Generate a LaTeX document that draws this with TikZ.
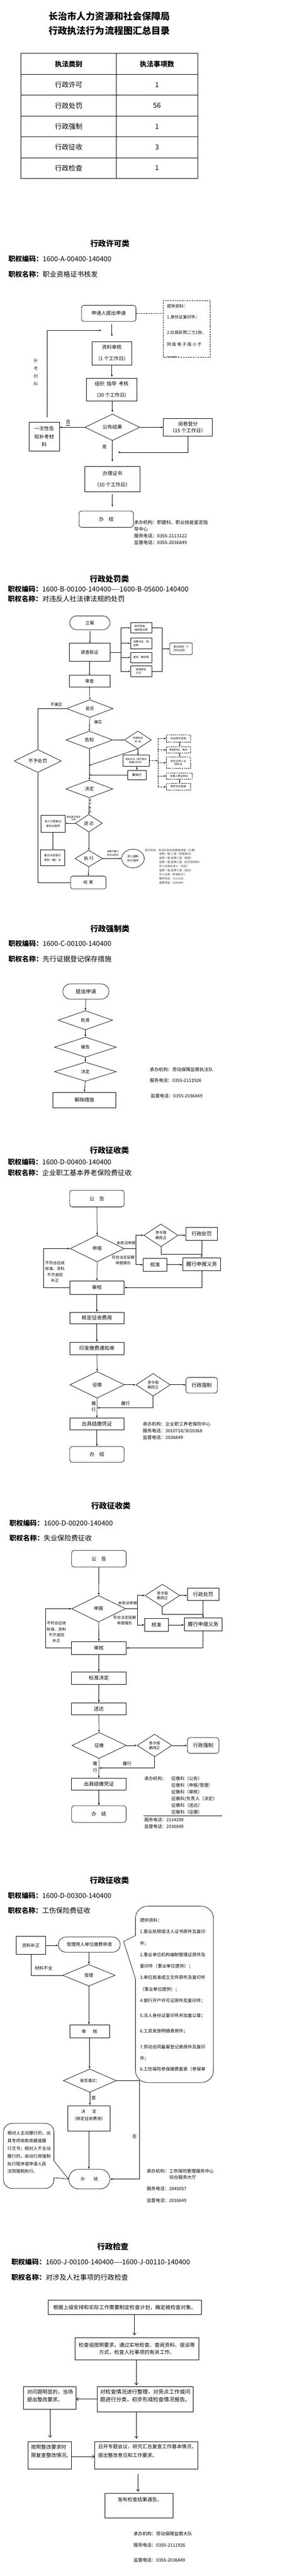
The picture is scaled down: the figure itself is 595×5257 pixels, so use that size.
\documentclass[tikz,border=0pt]{standalone}
\usepackage{fontspec}
\setmainfont{Noto Sans CJK SC}
\usetikzlibrary{shapes.geometric,arrows.meta}
\newcommand{\fsz}[2]{\fontsize{#1}{#2}\selectfont}
\begin{document}
\begin{tikzpicture}[x=1pt,y=-1pt,
 box/.style={draw, line width=0.8pt, inner sep=0pt, align=center},
 rbox/.style={box, rounded corners=5pt},
 dia/.style={draw, diamond, line width=0.8pt, inner sep=0pt, align=center},
 sbox/.style={box, minimum width=43, font=\fsz{5.3}{7}},
 dbox/.style={box, dash pattern=on 2.5pt off 1.5pt, minimum width=49, font=\fsz{5.3}{7}},
 ln/.style={line width=0.8pt},
 arr/.style={ln, -{Latex[length=4.5pt,width=3.6pt]}},
 sarr/.style={ln, -{Latex[length=3.5pt,width=3pt]}},
 darr/.style={sarr, dash pattern=on 3pt off 2pt},
 oarr/.style={ln, -{Straight Barb[length=4pt,width=7pt]}},
 head/.style={font=\bfseries\fsz{16}{18}},
 code/.style={anchor=west, inner sep=0pt, font=\fsz{14}{16}},
 txt/.style={anchor=west, inner sep=0pt, align=left},
 tline/.style={line width=0.9pt}]
\useasboundingbox[fill=white] (0,0) rectangle (595,5257);

% ---------------- Title and table
\node[font=\bfseries\fsz{19}{23}] (t1) at (223,33) {长治市人力资源和社会保障局};
\node[font=\bfseries\fsz{19}{23}] (t2) at (223,63) {行政执法行为流程图汇总目录};
\draw[tline] (43,109) rectangle (403,364);
\draw[tline] (237,109) -- (237,364);
\foreach \yy in {152,194,237,279,322} \draw[tline] (43,\yy) -- (403,\yy);
\node[font=\bfseries\fsz{14}{16}] (th1) at (140,130.5) {执法类别};
\node[font=\bfseries\fsz{14}{16}] (th2) at (320,130.5) {执法事项数};
\foreach \yy/\aa/\bb [count=\i] in {173/行政许可/1, 215.5/行政处罚/56, 258/行政强制/1, 300.5/行政征收/3, 343/行政检查/1} {
 \node[font=\fsz{14}{16}] (ra\i) at (140,\yy) {\aa};
 \node[font=\fsz{14}{16}] (rb\i) at (320,\yy) {\bb};
}

% ---------------- 行政许可类
\node[head] (h1) at (224,497) {行政许可类};
\node[code] (c1) at (17,528) {\textbf{职权编码：}1600-A-00400-140400};
\node[code] (n1) at (17,560) {\textbf{职权名称：}职业资格证书核发};

\node[rbox, minimum width=111, minimum height=33, font=\fsz{10}{12}] (A1) at (221.5,639.5) {申请人提出申请};
\node[box, dash pattern=on 3pt off 2pt, minimum width=95, minimum height=116] (Ad) at (380.5,671) {};
\node[txt, font=\fsz{8.5}{10}] (Ad1) at (340,625) {提供资料：};
\node[txt, font=\fsz{8.5}{10}] (Ad2) at (340,647) {1.身份证复印件；};
\node[txt, font=\fsz{8.5}{10}] (Ad3) at (340,679) {2.红底彩照二寸2张、};
\node[txt, font=\fsz{8.5}{10}] (Ad4) at (340,703) {同 底 电 子 版 小 于};
\begin{scope}
\clip (333,613) rectangle (428,729);
\node[txt, font=\fsz{8.5}{10}] (Ad5) at (340,731) {20KB；};
\end{scope}
\draw[ln, dash pattern=on 3pt off 2pt] (A1.east) -- (A1.east -| Ad.west);

\node[box, minimum width=80, minimum height=48, font=\fsz{10}{23}] (A2) at (228,721) {资料审核\\(1 个工作日)};
\draw[arr, shorten <=5pt, shorten >=10pt] (A1.south -| A2.north) -- (A2.north);
\coordinate (fbA) at (96,852);
\coordinate (fbB) at (207,674);
\draw[arr] (fbA) |- (fbB);
\node[font=\fsz{9}{15.5}, align=center, text=black!75] (bk) at (73,760) {补\\考\\材\\料};

\node[box, minimum width=103, minimum height=46, font=\fsz{10}{23}] (A3) at (227.5,795) {组织\ \ 指导\ \ 考核\\(30 个工作日)};
\draw[arr, shorten >=2pt] (A2.south) -- (A2.south |- A3.north);
\node[dia, minimum width=112, minimum height=54, font=\fsz{10}{12}] (AD) at (229,872) {公布结果};
\draw[arr, shorten >=3pt] (A3.south -| AD.north) -- (AD.north);
\node[box, minimum width=62, minimum height=58, font=\fsz{10}{16}] (A4) at (90,891) {一次性告\\知补考材\\料};
\draw[arr] (AD.west) -- (AD.west -| A4.east);
\node[font=\fsz{9}{10}] (no1) at (139,863) {\underline{否}};
\node[box, minimum width=100, minimum height=36, font=\fsz{10}{14}] (A5) at (383,872) {阅卷登分\\（15 个工作日）};
\draw[arr] (AD.east) -- (AD.east -| A5.west);
\coordinate (a5j) at (240,923);
\draw[arr] (A5.south) |- (a5j);
\node[font=\fsz{9}{10}] (yes1) at (213,912) {是};
\node[box, minimum width=112, minimum height=51, font=\fsz{10}{23}] (A6) at (229,977.5) {办理证书\\（10 个工作日）};
\draw[arr, shorten >=9pt] (AD.south) -- (A6.north);
\node[rbox, minimum width=111, minimum height=33, font=\fsz{10}{12}] (A7) at (216.5,1059.5) {办\quad 结};
\draw[arr, shorten <=5pt, shorten >=8pt] (A6.south) -- (A6.south |- A7.north);
\node[txt, anchor=north west, font=\fsz{9.4}{13.5}] (i1) at (273,1062) {承办机构：职建科、职业技能鉴定指\\导中心\\服务电话：0355-2113122\\监督电话：0355-2036849};

% ---------------- 行政处罚类
\node[head] (h2) at (223,1182) {行政处罚类};
\node[code] (c2) at (16,1202) {\textbf{职权编码：}1600-B-00100-140400----1600-B-05600-140400};
\node[code] (n2) at (16,1222) {\textbf{职权名称：}对违反人社法律法规的处罚};

\node[box, rounded corners=14pt, minimum width=82, minimum height=28, font=\fsz{9}{11}] (B1) at (183,1271) {立案};
\node[box, minimum width=83, minimum height=36, font=\fsz{9}{11}] (B2) at (182.5,1331) {调查取证};
\draw[sarr, shorten <=3pt] (B1.south) -- (B1.south |- B2.north);
\node[sbox, minimum height=21, align=left] (B3a) at (287.5,1281.5) {制作笔录、\\抽样取证等};
\node[sbox, minimum height=22, align=left] (B3b) at (287.5,1313) {收集书证、物\\证等};
\node[sbox, minimum height=21] (B3c) at (287.5,1341.5) {鉴定、勘验等};
\node[sbox, minimum height=22, align=left] (B3d) at (287.5,1370) {其他取证\\方式};
\coordinate (bL) at (246,1331);
\draw[ln] (B2.east) -- (bL);
\foreach \n in {B3a,B3b,B3c,B3d} \draw[sarr] (bL) |- (\n.west);
\coordinate (bR) at (331,1324);
\draw[ln] (B3a.east) -| (bR) |- (B3d.east);
\node[box, rounded corners=3pt, minimum width=46, minimum height=24, font=\fsz{5.5}{7.5}, align=left] (B4) at (369,1324) {登记保全（7\\日内决定）};
\draw[sarr] (bR) -- (B4.west);

\node[box, minimum width=83, minimum height=24, font=\fsz{9}{11}] (B5) at (182.5,1390) {审查};
\draw[sarr] (B2.south) -- (B5.north);
\node[dia, minimum width=95, minimum height=36, font=\fsz{8.5}{10}] (B6) at (183,1446) {是否};
\draw[sarr] (B5.south) -- (B6.north);
\node[dia, minimum width=96, minimum height=36, font=\fsz{9.5}{11}] (B7) at (77,1553) {不予处罚};
\draw[ln] (B6.west) -| (B7.north);
\node[font=\fsz{8}{9}] (l1) at (115,1438) {不属实};
\node[font=\fsz{8}{9}] (l2) at (200,1474) {属实};
\node[dia, minimum width=95, minimum height=36, font=\fsz{9.5}{11}] (B8) at (182,1510) {告知};
\draw[sarr] (B6.south) -- (B8.north);
\node[dia, minimum width=55, minimum height=36, font=\fsz{5}{7}] (B9) at (281,1510) {听取陈述\\申\ \ 辩};
\draw[sarr] (B8.east) -- (B9.west);
\node[box, minimum width=53, minimum height=23, font=\fsz{4.8}{7}] (B10) at (277.5,1552.5) {组织听证（情节复杂\\或重大处罚）};
\draw[sarr] (B9.south) -- (B9.south |- B10.north);
\coordinate (b9d) at (182,1562);
\draw[sarr] (B9.south) -- (b9d);
\node[box, minimum width=38, minimum height=19, font=\fsz{6.5}{8}] (B11) at (279,1581.5) {集体讨};
\draw[sarr] (B10.south -| B11.north) -- (B11.north);
\coordinate (b11m) at (182,1581.5);
\draw[sarr] (B11.west) -- (b11m);
\node[dia, minimum width=96, minimum height=36, font=\fsz{9.5}{11}] (B12) at (182,1610) {决定};
\draw[sarr] (B8.south) -- (B12.north);

\coordinate (dv) at (322,1552.5);
\coordinate (dvt) at (322,1507);
\coordinate (dvb) at (322,1605.5);
\draw[darr] (B10.east) -- (dv);
\draw[ln, dash pattern=on 3pt off 2pt] (dvt) -- (dvb);
\node[dbox, minimum height=14] (C1) at (363.5,1507) {听证权利告知};
\node[dbox, minimum height=13] (C2) at (363.5,1530.5) {告知时间、地点};
\node[dbox, minimum height=23] (C3) at (363.5,1556.5) {听证主持人主\\持听证};
\node[dbox, minimum height=13, minimum width=52] (C4) at (365,1583.5) {当事人质证辩论};
\node[dbox, minimum height=13] (C5) at (363.5,1605.5) {制作听证笔录};
\foreach \n in {C1,C2,C3,C4,C5} \draw[darr] (dvt |- \n.west) -- (\n.west);
\draw[sarr] ([xshift=2.5pt]C1.south) -- ([xshift=2.5pt]C2.north);
\draw[sarr] ([xshift=2.5pt]C2.south) -- ([xshift=2.5pt]C3.north);
\draw[sarr] ([xshift=1pt]C4.south) -- ([xshift=2.5pt]C5.north);

\node[font=\fsz{5}{7.5}, align=center] (gy) at (184,1645) {给\\予\\处\\罚};
\node[dia, minimum width=55, minimum height=36, font=\fsz{9}{11}] (B13) at (181,1680) {送\ 达};
\draw[sarr] (B12.south) -- (B13.north);
\node[font=\fsz{4.7}{6}, align=center] (l3) at (150,1670) {提出复议或诉\\讼的};
\node[box, minimum width=50, minimum height=34, font=\fsz{5.7}{9}] (B14) at (108,1681) {进入行政复议\\或诉讼程序};
\draw[sarr] (B13.west) -- (B13.west -| B14.east);
\node[box, minimum width=50, minimum height=33, font=\fsz{5.7}{9}] (B15) at (107,1750.5) {复议决定或行\\政判（裁）决};
\draw[sarr] (B14.south) -- (B14.south |- B15.north);
\node[dia, minimum width=56, minimum height=34, font=\fsz{9}{11}] (B16) at (181,1752) {执\ 行};
\draw[sarr] (B13.south) -- (B16.north);
\node[draw, ellipse, line width=0.8pt, minimum width=46, minimum height=38, inner sep=0pt, align=center, font=\fsz{5.7}{8}] (B17) at (271,1752) {进入强制\\执行程序};
\draw[sarr] (B16.east) -- (B17.west);
\node[font=\fsz{4.7}{7.5}, align=center] (l4) at (230,1741) {逾期不履行\\处罚决定的};
\node[box, rounded corners=4pt, minimum width=72, minimum height=26, font=\fsz{8}{10}] (B18) at (180,1801) {结\ \ 案};
\draw[sarr] (B16.south) -- (B18.north);
\draw[ln] (B7.south) |- (B18.west);

\node[txt, font=\fsz{5.6}{8.4}, text=black!80] (i2a) at (295,1735) {承办机构：执法队投诉举报接待室（立案）};
\node[txt, anchor=north west, font=\fsz{5.6}{8.4}, text=black!80] (i2b) at (324,1740) {监察一室/二室（调查取证）\\监察一室/监察二室（审查）\\监察一室/监察二室（处罚前告知）\\市人社局负责人（决定）\\监察一室/监察二室（送达）\\市人社局（申请执行）\\服务电话：2111926\\监督电话：2036849};

% ---------------- 行政强制类
\node[head] (h3) at (224,1895) {行政强制类};
\node[code] (c3) at (17,1926) {\textbf{职权编码：}1600-C-00100-140400};
\node[code] (n3) at (17,1957) {\textbf{职权名称：}先行证据登记保存措施};
\node[box, rounded corners=15.5pt, minimum width=94, minimum height=31, font=\fsz{10.4}{12}] (D1) at (175,2023.5) {提出申请};
\node[dia, minimum width=111, minimum height=39, font=\fsz{9}{11}] (D2) at (174,2082) {批准};
\node[dia, minimum width=126, minimum height=41, font=\fsz{9}{11}] (D3) at (174,2137) {催告};
\node[dia, minimum width=126, minimum height=39, font=\fsz{9}{11}] (D4) at (174,2187) {决定};
\node[box, minimum width=128, minimum height=32, font=\fsz{10}{12}] (D5) at (172,2245) {解除措施};
\draw[arr] (D1.south) -- (D2.north);
\draw[arr] (D2.south) -- (D3.north);
\draw[arr] (D3.south) -- (D4.north);
\draw[arr] (D4.south) -- (D5.north);
\node[txt, font=\fsz{9.2}{11}] (i3a) at (305,2183) {承办机构：劳动保障监察执法队};
\node[txt, font=\fsz{9.2}{11}] (i3b) at (305,2205) {服务电话：0355-2111926};
\node[txt, font=\fsz{9.2}{11}] (i3c) at (307,2237) {监督电话：0355-2036849};

% ---------------- 行政征收类 (1)
\node[head] (h4) at (223,2347) {行政征收类};
\node[code] (c4) at (16,2371) {\textbf{职权编码：}1600-D-00400-140400};
\node[code] (n4) at (16,2393) {\textbf{职权名称：}企业职工基本养老保险费征收};
\node[rbox, minimum width=111, minimum height=34, font=\fsz{10}{12}] (E1) at (197.5,2446) {公\quad 告};
\node[dia, minimum width=110, minimum height=54, font=\fsz{9.5}{11}] (E2) at (198,2548) {申报};
\draw[arr] (E1.south) -- (E2.north);
\coordinate (e2b) at (277,2548);
\draw[ln] (E2.east) -- (e2b);
\node[dia, minimum width=70, minimum height=46, font=\fsz{7.5}{9.5}] (E3) at (328,2521) {责令限\\期改正};
\node[box, minimum width=48, minimum height=26, font=\fsz{10}{12}] (E5) at (316,2581) {核准};
\draw[arr] (e2b) |- (E3.west);
\draw[arr] (e2b) |- (E5.west);
\node[box, minimum width=64, minimum height=26, font=\fsz{10.3}{12}] (E4) at (411,2518) {行政处罚};
\draw[arr] (E3.east) -- (E3.east -| E4.west);
\node[box, minimum width=77, minimum height=26, font=\fsz{10.5}{12}] (E6) at (411,2580) {履行申报义务};
\draw[arr] (E4.south) -- (E6.north);
\coordinate (e3j) at (411,2560);
\draw[ln] (E3.south) |- (e3j);
\draw[arr] (E5.east) -- (E5.east -| E6.west);
\node[box, minimum width=111, minimum height=27, font=\fsz{10}{12}] (E7) at (197.5,2627.5) {审核};
\draw[arr] (E2.south) -- (E7.north);
\draw[arr] (E6.south) |- (E7.east);
\draw[arr] (E7.west) -- ++(-53,0) |- (E2.west);
\node[font=\fsz{7.7}{9}] (l5) at (257,2537) {未依法申报};
\node[font=\fsz{7.7}{11.5}, align=center] (l6) at (251,2572) {符合法定延期\\申报情形};
\node[font=\fsz{7.9}{11.7}, align=center] (l7) at (112,2595.5) {不符合征收\\标准、资料\\不齐退回\\补正};
\node[box, minimum width=111, minimum height=23, font=\fsz{10.3}{12}] (E8) at (197.5,2689.5) {核定征收费用};
\node[box, minimum width=111, minimum height=25, font=\fsz{10.3}{12}] (E9) at (197.5,2751.5) {印发缴费通知单};
\node[dia, minimum width=111, minimum height=54, font=\fsz{9.5}{11}] (E10) at (198,2826) {征缴};
\node[dia, minimum width=70, minimum height=46, font=\fsz{7.5}{9.5}] (E11) at (312,2826) {责令限\\期改正};
\node[rbox, minimum width=64, minimum height=32, font=\fsz{10.3}{12}] (E12) at (411,2827) {行政强制};
\node[box, minimum width=111, minimum height=24, font=\fsz{10.3}{12}] (E13) at (197.5,2906) {出具结缴凭证};
\node[rbox, minimum width=111, minimum height=32, font=\fsz{10}{12}] (E14) at (197.5,2968) {办\quad 结};
\draw[arr] (E7.south) -- (E8.north);
\draw[arr] (E8.south) -- (E9.north);
\draw[arr] (E9.south) -- (E10.north);
\draw[arr] (E10.east) -- (E11.west);
\draw[arr] (E11.east) -- (E11.east -| E12.west);
\draw[arr] (E10.south) -- (E13.north);
\draw[arr] (E13.south) -- (E14.north);
\coordinate (e10m) at (198,2873);
\draw[arr] (E11.south) |- (e10m);
\node[font=\fsz{9}{10}] (l8) at (256,2864) {履行};
\node[font=\fsz{9}{13}, align=center] (l9) at (191,2870.5) {履\\行};
\node[txt, anchor=north west, font=\fsz{9.2}{13.5}] (i4) at (291,2902) {承办机构：企业职工养老保险中心\\服务电话：3010718/3010368\\监督电话：2036849};

% ---------------- 行政征收类 (2)
\node[head] (h5) at (226,3073) {行政征收类};
\node[code] (c5) at (19,3108) {\textbf{职权编码：}1600-D-00200-140400};
\node[code] (n5) at (19,3139) {\textbf{职权名称：}失业保险费征收};
\node[rbox, minimum width=111, minimum height=34, font=\fsz{10}{12}] (F1) at (201.5,3181) {公\quad 告};
\node[dia, minimum width=110, minimum height=54, font=\fsz{9.5}{11}] (F2) at (201,3283) {申报};
\draw[arr] (F1.south) -- (F2.north);
\coordinate (f2b) at (280,3283);
\draw[ln] (F2.east) -- (f2b);
\node[dia, minimum width=71, minimum height=46, font=\fsz{7.5}{9.5}] (F3) at (331,3256) {责令限\\期改正};
\node[box, minimum width=48, minimum height=26, font=\fsz{10}{12}] (F5) at (319,3316) {核准};
\draw[arr] (f2b) |- (F3.west);
\draw[arr] (f2b) |- (F5.west);
\node[box, minimum width=64, minimum height=25, font=\fsz{10.3}{12}] (F4) at (414,3253.5) {行政处罚};
\draw[arr] (F3.east) -- (F3.east -| F4.west);
\node[box, minimum width=77, minimum height=26, font=\fsz{10.5}{12}] (F6) at (414,3315) {履行申报义务};
\draw[arr] (F4.south) -- (F6.north);
\coordinate (f3j) at (414,3294);
\draw[ln] (F3.south) |- (f3j);
\draw[arr] (F5.east) -- (F5.east -| F6.west);
\node[box, minimum width=111, minimum height=26, font=\fsz{10}{12}] (F7) at (201.5,3363) {审核};
\draw[arr] (F2.south) -- (F7.north);
\draw[arr] (F6.south) |- (F7.east);
\draw[arr] (F7.west) -- ++(-53,0) |- (F2.west);
\node[font=\fsz{7.7}{9}] (l10) at (260,3272) {未依法申报};
\node[font=\fsz{7.7}{12}, align=center] (l11) at (254,3307) {符合法定延期\\申报情形};
\node[font=\fsz{7.9}{11.7}, align=center] (l12) at (115,3330.5) {不符合征收\\标准、资料\\不齐退回\\补正};
\node[box, minimum width=111, minimum height=25, font=\fsz{10.3}{12}] (F8) at (201.5,3424.5) {标准决定};
\node[box, minimum width=111, minimum height=24, font=\fsz{10.3}{12}] (F9) at (201.5,3487) {送达};
\node[dia, minimum width=111, minimum height=53, font=\fsz{9.5}{11}] (F10) at (202,3562) {征缴};
\node[dia, minimum width=71, minimum height=46, font=\fsz{7.5}{9.5}] (F11) at (315,3562) {责令限\\期改正};
\node[rbox, minimum width=64, minimum height=32, font=\fsz{10.3}{12}] (F12) at (414,3562) {行政强制};
\node[box, minimum width=111, minimum height=24, font=\fsz{10.3}{12}] (F13) at (201.5,3641) {出具结缴凭证};
\node[rbox, minimum width=111, minimum height=34, font=\fsz{10}{12}] (F14) at (201.5,3702) {办\quad 结};
\draw[arr] (F7.south) -- (F8.north);
\draw[arr] (F8.south) -- (F9.north);
\draw[arr] (F9.south) -- (F10.north);
\draw[arr] (F10.east) -- (F11.west);
\draw[arr] (F11.east) -- (F12.west);
\draw[arr] (F10.south) -- (F13.north);
\draw[arr] (F13.south) -- (F14.north);
\coordinate (f10m) at (202,3608);
\draw[arr] (F11.south) |- (f10m);
\node[font=\fsz{9}{10}] (l13) at (259,3599) {履行};
\node[font=\fsz{9}{13}, align=center] (l14) at (194,3606) {履\\行};
\node[txt, font=\fsz{9}{11}] (i5a) at (294,3630) {承办机构：};
\node[txt, anchor=north west, font=\fsz{9}{13.6}] (i5b) at (349,3625.5) {征缴科（公告）\\征缴科（申报/受理）\\征缴科（审核）\\征缴科/负责人（决定）\\征缴科（送达）\\征缴科（征缴）};
\draw[ln] (292,3706) -- (453,3706);
\node[txt, font=\fsz{9}{11}] (i5c) at (294,3714) {服务电话：2114298};
\node[txt, font=\fsz{9}{11}] (i5d) at (294,3727) {监督电话：2036849};

% ---------------- 行政征收类 (3)
\node[head] (h6) at (223,3837) {行政征收类};
\node[code] (c6) at (16,3868) {\textbf{职权编码：}1600-D-00300-140400};
\node[code] (n6) at (16,3899) {\textbf{职权名称：}工伤保险费征收};
\node[box, minimum width=60, minimum height=36, font=\fsz{9}{11}] (G1) at (63,3970) {资料补正};
\node[box, rounded corners=15.5pt, minimum width=126, minimum height=31, font=\fsz{9.2}{11}] (G2) at (182,3968.5) {受理用人单位缴费申请};
\draw[arr] (G1.east) -- (G1.east -| G2.west);
\node[dia, minimum width=107, minimum height=44, font=\fsz{9}{11}] (G3) at (181,4031) {受理};
\draw[arr] (G2.south -| G3.north) -- (G3.north);
\draw[ln] (G3.west) -| (G1.south);
\node[font=\fsz{9}{10}] (l15) at (89,4017) {材料不全};
\node[box, minimum width=81, minimum height=27, font=\fsz{9}{11}] (G4) at (182.5,4145.5) {审\hspace{14pt}核};
\draw[arr] (G3.south) -- (G3.south |- G4.north);
\node[dia, minimum width=108, minimum height=42, font=\fsz{8}{10}] (G5) at (183,4246) {是否通过：};
\draw[arr] (G4.south) -- (G4.south |- G5.north);
\node[box, minimum width=86, minimum height=52] (G6) at (181,4323) {};
\node[font=\fsz{8.5}{15}, align=center] (G6t) at (181,4316.5) {决\hspace{14pt}定\\（核定征收费用）};
\draw[arr] (G5.south) -- (G5.south |- G6.north);
\node[font=\fsz{9}{10}] (l16) at (191,4282) {是};
\node[box, rounded corners=20pt, minimum width=84, minimum height=40, font=\fsz{8.5}{10}] (G7) at (182,4447) {办\hspace{18pt}结};
\draw[arr] (G6.south) -- (G6.south |- G7.north);
\draw[arr] (G5.east) -- ++(47,0) |- (G7.east);
\node[font=\fsz{9}{10}] (l17) at (274,4361) {否};
% right callout
\draw[ln, rounded corners=25pt] (276,3950) -- (276,3890) -- (435,3890) -- (435,4250) -- (276,4250) -- (276,4038);
\draw[ln] (276,3950) -- (252,3962) -- (276,4038);
\foreach \yy/\ttx [count=\i] in {3919/提供资料：,3942/1.营业执照或法人证书原件及复印,3966/件；,3989/2.事业单位机构编制管理证原件及,4013/复印件（事业单位提供）；,4036/3.单位批准成立文件原件及复印件,4060/（事业单位提供）；,4083/4.银行开户许可证原件及复印件；,4114/5.法人身份证复印件并加盖公章；,4145/6.工资发放明细表原件；,4177/7.劳动合同备案登记表原件及复印,4201/件；,4223/8.工伤保险参保缴费套表（参保单}
 \node[txt, font=\fsz{9}{11}] (g8t\i) at (285,\yy) {\ttx};
% left callout
\draw[ln, rounded corners=18pt] (110,4410) -- (110,4333) -- (7,4333) -- (7,4466) -- (110,4466) -- (110,4444);
\draw[ln] (110,4410) -- (G7.west) -- (110,4444);
\node[txt, anchor=north west, font=\fsz{8.8}{15.6}] (g9t) at (15,4349) {相对人主动履行的，出\\具专项收款收据或履\\行文书；相对人不主动\\履行的，启动行政强制\\执行程序或申请人民\\法院强制执行。};
\node[txt, font=\fsz{9.1}{11}] (i6a) at (299,4431) {承办机构：工伤保险管理服务中心};
\node[txt, font=\fsz{9.1}{11}] (i6b) at (345,4443) {综合服务大厅};
\node[txt, font=\fsz{9.1}{11}] (i6c) at (299,4467) {服务电话：2040057};
\node[txt, font=\fsz{9.1}{11}] (i6d) at (299,4491) {监督电话：2036849};

% ---------------- 行政检查
\node[head] (h7) at (230,4585) {行政检查};
\node[code] (c7) at (23,4616) {\textbf{职权编码：}1600-J-00100-140400----1600-J-00110-140400};
\node[code] (n7) at (23,4648) {\textbf{职权名称：}对涉及人社事项的行政检查};
\node[box, minimum width=312, minimum height=29, font=\fsz{10.4}{12}] (H1) at (254,4708.5) {根据上级安排和实际工作需要制定检查计划，确定被检查对象。};
\node[box, minimum width=252, minimum height=45, font=\fsz{10.3}{15}] (H2) at (279,4793.5) {检查组按照要求，通过实地检查、查阅资料、座谈等\\方式，检查人社事项的有关工作。};
\node[box, minimum width=196, minimum height=52] (H3) at (296,4896) {};
\node[txt, anchor=north west, font=\fsz{10.8}{15.5}] (H3t) at (204,4876) {对检查情况进行整理，对亮点工作或问\\题进行分类，初步形成检查情况报告。};
\node[box, minimum width=107, minimum height=47] (H4) at (101.5,4893.5) {};
\node[txt, anchor=north west, font=\fsz{10.4}{16}] (H4t) at (55,4876) {对问题明显的，当场\\提出整改要求。};
\node[box, minimum width=89, minimum height=56] (H5) at (101.5,5011) {};
\node[txt, anchor=north west, font=\fsz{10.3}{17}] (H5t) at (63,4988.5) {按照整改要求时\\限复查整改情况。};
\node[box, minimum width=210, minimum height=56] (H6) at (298,5011) {};
\node[txt, anchor=north west, font=\fsz{10}{17}] (H6t) at (200,4988.5) {召开专题会议，研究汇总复查工作基本情况，\\提出整改意见和工作要求。};
\node[box, minimum width=139, minimum height=50] (H7) at (283.5,5113) {};
\node[font=\fsz{10}{12}] (H7t) at (285,5101) {发布检查结果通告。};
\draw[oarr, shorten >=5pt] ([xshift=20pt]H1.south) -- ([xshift=-5pt]H2.north);
\draw[oarr, shorten >=2pt] ([xshift=-1pt]H2.south) -- ([xshift=-18pt]H3.north);
\draw[oarr] (H3.west) -- (H3.west -| H4.east);
\draw[oarr, shorten >=8pt] ([xshift=0.5pt]H4.south) -- ([xshift=0.5pt]H5.north);
\draw[oarr, shorten >=6pt] ([xshift=-18pt]H3.south) -- ([xshift=-20pt]H6.north);
\draw[oarr] ([yshift=-2pt]H5.east) -- ([yshift=-2pt]H5.east -| H6.west);
\draw[oarr, shorten <=9pt, shorten >=3pt] ([xshift=-17pt]H6.south) -- ([xshift=-2.5pt]H7.north);
\node[txt, font=\fsz{9.2}{11}] (i7a) at (272,5171) {承办机构：劳动保障监察大队};
\node[txt, font=\fsz{9.2}{11}] (i7b) at (272,5194) {服务电话：0355-2111926};
\node[txt, font=\fsz{9.2}{11}] (i7c) at (272,5225) {监督电话：0355-2036849};
\end{tikzpicture}
\end{document}
